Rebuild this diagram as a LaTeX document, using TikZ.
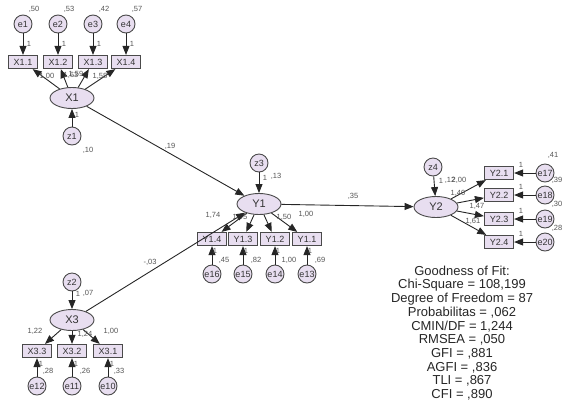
\documentclass[tikz,border=0pt]{standalone}
\usepackage{fontspec}
\setmainfont{Liberation Sans}
\usetikzlibrary{arrows.meta,shapes.geometric}
\definecolor{lav}{HTML}{E8DEF0}
\definecolor{bord}{HTML}{4A4A4A}
\definecolor{lblc}{HTML}{555555}
\definecolor{txt}{HTML}{333333}
\begin{document}
\begin{tikzpicture}[x=1pt,y=-1pt,
 lat/.style={ellipse,draw=bord,fill=lav,line width=0.9pt,minimum width=44pt,minimum height=21pt,inner sep=0pt,text=txt,font=\fontsize{11}{11}\selectfont},
 err/.style={circle,draw=bord,fill=lav,line width=0.9pt,minimum size=18pt,inner sep=0pt,text=txt,font=\fontsize{9}{9}\selectfont},
 obs/.style={rectangle,draw=bord,fill=lav,line width=1.2pt,minimum width=29pt,minimum height=13pt,inner sep=1pt,text=txt,font=\fontsize{9}{9}\selectfont},
 arr/.style={-{Triangle[length=9pt,width=7pt]},line width=0.9pt,draw=black!85},
 lbl/.style={font=\fontsize{7.5}{7.5}\selectfont,text=lblc,inner sep=0pt},
]
\useasboundingbox (0,0) rectangle (564,416);
% hidden label first
\node[lbl] (lY23b) at (473,221) {1,61};
% ---------- X1 block ----------
\node[lat] (X1) at (72,98) {X1};
\node[err] (z1) at (72,136) {z1};
\foreach \n/\x in {1/23,2/58,3/93,4/126}{
  \node[obs] (X1\n) at (\x,62) {X1.\n};
  \node[err] (e\n) at (\x,24) {e\n};
  \draw[arr] (e\n) -- (X1\n);
  \draw[arr] (X1) -- (X1\n);
}
\draw[arr] (z1) -- (X1);
\foreach \n/\x in {1/23,2/58,3/93,4/126}{ \node[lbl] (one\n) at (\x+6,44) {1}; }
\node[lbl] (v1) at (34,9) {,50};
\node[lbl] (v2) at (69,9) {,53};
\node[lbl] (v3) at (104,9) {,42};
\node[lbl] (v4) at (137,9) {,57};
\node[lbl] (lX11) at (47,76) {1,00};
\node[lbl] (lX12) at (71,75) {1,63};
\node[lbl] (lX13) at (76,74) {1,59};
\node[lbl] (lX14) at (100,76) {1,58};
\node[lbl] (oz1) at (77,115) {1};
\node[lbl] (vz1) at (88,150) {,10};
% ---------- Y1 block ----------
\node[lat] (Y1) at (259,204) {Y1};
\node[err] (z3) at (259,163) {z3};
\draw[arr] (z3) -- (Y1);
\node[lbl] (oz3) at (265,178) {1};
\node[lbl] (vz3) at (276,176) {,13};
\foreach \n/\e/\x in {4/16/212,3/15/243,2/14/275,1/13/307}{
  \node[obs] (Y1\n) at (\x,239) {Y1.\n};
  \node[err] (e\e) at (\x,274) {e\e};
  \draw[arr] (e\e) -- (Y1\n);
  \draw[arr] (Y1) -- (Y1\n);
  \node[lbl] (oe\e) at (\x+3,251) {1};
}
\node[lbl] (lY14) at (213,215) {1,74};
\node[lbl] (lY13) at (240,217) {1,45};
\node[lbl] (lY12) at (284,217) {1,50};
\node[lbl] (lY11) at (306,214) {1,00};
\node[lbl] (ve16) at (224,260) {,45};
\node[lbl] (ve15) at (256,260) {,82};
\node[lbl] (ve14) at (289,260) {1,00};
\node[lbl] (ve13) at (320,260) {,69};
% ---------- X3 block ----------
\node[lat] (X3) at (72,320) {X3};
\node[err] (z2) at (72,282) {z2};
\draw[arr] (z2) -- (X3);
\node[lbl] (oz2) at (78,294) {1};
\node[lbl] (vz2) at (88,293) {,07};
\foreach \n/\e/\x in {3/12/37,2/11/72,1/10/108}{
  \node[obs] (X3\n) at (\x,351) {X3.\n};
  \node[err] (e\e) at (\x,386) {e\e};
  \draw[arr] (e\e) -- (X3\n);
  \draw[arr] (X3) -- (X3\n);
  \node[lbl] (oe\e) at (\x+4,364) {1};
}
\node[lbl] (lX33) at (35,331) {1,22};
\node[lbl] (lX32) at (85,334) {1,24};
\node[lbl] (lX31) at (111,331) {1,00};
\node[lbl] (ve12) at (48,371) {,28};
\node[lbl] (ve11) at (85,371) {,26};
\node[lbl] (ve10) at (119,371) {,33};
% ---------- Y2 block ----------
\node[lat] (Y2) at (436,207) {Y2};
\node[err] (z4) at (433,167) {z4};
\draw[arr] (z4) -- (Y2);
\node[lbl] (oz4) at (441,181) {1};
\node[lbl] (vz4) at (450,180) {,12};
\node[lbl] (lY21) at (459,180) {2,00};
\foreach \n/\e/\y in {1/17/173,2/18/195,3/19/219,4/20/242}{
  \node[obs] (Y2\n) at (499,\y) {Y2.\n};
  \node[err] (e\e) at (545,\y) {e\e};
  \draw[arr] (e\e) -- (Y2\n);
  \draw[arr] (Y2) -- (Y2\n);
  \node[lbl] (oe\e) at (521,\y-8) {1};
}
\node[lbl] (lY22) at (458,193) {1,40};
\node[lbl] (lY23) at (477,206) {1,47};
\node[lbl] (ve17) at (553,155) {,41};
\node[lbl] (ve18) at (557,180) {,39};
\node[lbl] (ve19) at (557,204) {,30};
\node[lbl] (ve20) at (557,228) {,28};
% ---------- structural paths ----------
\draw[arr] (X1) -- (Y1);
\draw[arr] (X3) -- (Y1);
\draw[arr] (Y1) -- (Y2);
\node[lbl] (p1) at (170,146) {,19};
\node[lbl] (p2) at (150,262) {-,03};
\node[lbl] (p3) at (353,196) {,35};
% ---------- fit ----------
\node[align=center,text=black!85,font=\fontsize{13}{13.7}\selectfont] (fit) at (462,333)
 {Goodness of Fit:\\Chi-Square = 108,199\\Degree of Freedom = 87\\Probabilitas = ,062\\CMIN/DF = 1,244\\RMSEA = ,050\\GFI = ,881\\AGFI = ,836\\TLI = ,867\\CFI = ,890};
\end{tikzpicture}
\end{document}
